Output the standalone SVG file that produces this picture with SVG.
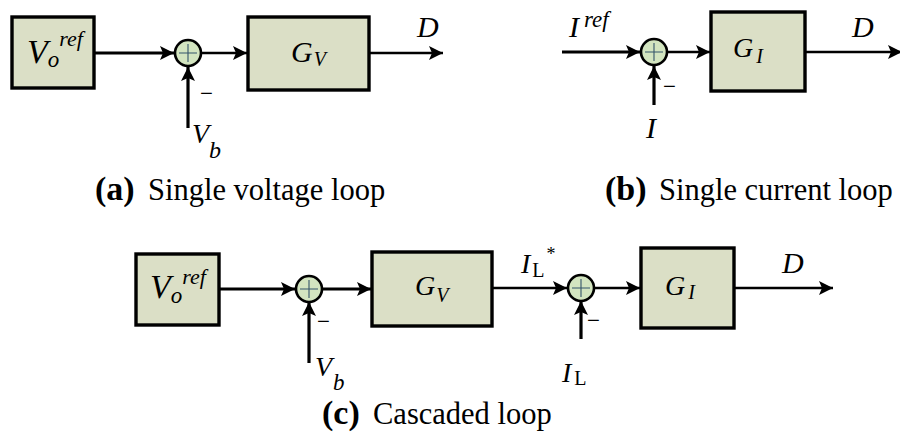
<svg xmlns="http://www.w3.org/2000/svg" width="900" height="432" viewBox="0 0 900 432" font-family="Liberation Serif">
<defs>
<marker id="ah" markerUnits="userSpaceOnUse" markerWidth="15" markerHeight="14" refX="14" refY="7" orient="auto">
<path d="M0,0 L14,7 L0,14 L3,7 Z" fill="#000"/>
</marker>
<style>
.blk{fill:#dbdfc6;stroke:#000;stroke-width:3.4}
.sum{fill:#d3e5c0;stroke:#000;stroke-width:2.6}
.plus{stroke:#35566a;stroke-width:1.1;fill:none}
.thick{stroke:#000;stroke-width:3.2;fill:none;marker-end:url(#ah)}
.thin{stroke:#000;stroke-width:2.3;fill:none;marker-end:url(#ah)}
.m{font-style:italic}
.r{font-style:normal}
.cap{font-size:30.5px;font-weight:normal}
.lab{font-size:34px;font-weight:bold}
.minus{font-size:23px}
</style>
</defs>
<rect width="900" height="432" fill="#fff"/>

<!-- (a) Single voltage loop -->
<g id="a_vref"><rect class="blk" x="12" y="17" width="82" height="71"/>
<text class="m" x="27" y="63" font-size="34">V<tspan font-size="23" dy="4">o</tspan><tspan font-size="22" dy="-21">ref</tspan></text></g>
<g id="a_sum"><circle class="sum" cx="188" cy="53" r="13"/><path class="plus" d="M179,53 H197 M188,44 V62"/></g>
<g id="a_gv"><rect class="blk" x="248" y="17" width="121" height="73"/>
<text class="m" x="291" y="62" font-size="30">G<tspan font-size="20" dx="1" dy="4">V</tspan></text></g>
<g id="a_labels">
<text class="m" x="417" y="37" font-size="30">D</text>
<text class="minus" x="200" y="101">−</text>
<text class="m" x="192" y="143" font-size="28">V<tspan font-size="24" dy="15">b</tspan></text>
<text x="95" y="200"><tspan class="lab">(a)</tspan><tspan class="cap" x="148">Single voltage loop</tspan></text>
</g>

<!-- (b) Single current loop -->
<g id="b_sum"><circle class="sum" cx="654" cy="52" r="13"/><path class="plus" d="M645,52 H663 M654,43 V61"/></g>
<g id="b_gi"><rect class="blk" x="711" y="12" width="94" height="79"/>
<text class="m" x="733" y="57" font-size="28">G<tspan font-size="20" dx="3" dy="6">I</tspan></text></g>
<g id="b_labels">
<text class="m" x="569" y="37" font-size="30">I<tspan font-size="23" dx="5" dy="-10">ref</tspan></text>
<text class="m" x="852" y="37" font-size="30">D</text>
<text class="minus" x="663" y="94">−</text>
<text class="m" x="646" y="138" font-size="30">I</text>
<text x="605" y="200"><tspan class="lab">(b)</tspan><tspan class="cap" x="659">Single current loop</tspan></text>
</g>

<!-- (c) Cascaded loop -->
<g id="c_vref"><rect class="blk" x="136" y="254" width="83" height="71"/>
<text class="m" x="150" y="298" font-size="34">V<tspan font-size="23" dy="5">o</tspan><tspan font-size="22" dy="-19">ref</tspan></text></g>
<g id="c_sum1"><circle class="sum" cx="309" cy="289" r="13"/><path class="plus" d="M300,289 H318 M309,280 V298"/></g>
<g id="c_gv"><rect class="blk" x="372" y="252" width="120" height="74"/>
<text class="m" x="415" y="295" font-size="28">G<tspan font-size="20" dx="1" dy="7">V</tspan></text></g>
<g id="c_sum2"><circle class="sum" cx="581" cy="288" r="13"/><path class="plus" d="M572,288 H590 M581,279 V297"/></g>
<g id="c_gi"><rect class="blk" x="641" y="248" width="93" height="80"/>
<text class="m" x="665" y="295" font-size="28">G<tspan font-size="20" dx="3" dy="4">I</tspan></text></g>
<g id="c_labels">
<text class="minus" x="317" y="329">−</text>
<text class="m" x="315" y="376" font-size="28">V<tspan font-size="23" dx="1" dy="14">b</tspan></text>
<text class="m" x="521" y="273" font-size="28">I<tspan class="r" font-size="20" dx="2" dy="4">L</tspan><tspan class="r" font-size="18" dx="2" dy="-17">*</tspan></text>
<text class="m" x="782" y="273" font-size="30">D</text>
<text class="minus" x="587" y="328">−</text>
<text class="m" x="562" y="382" font-size="28">I<tspan class="r" font-size="20" dx="3" dy="3">L</tspan></text>
<text x="322" y="424"><tspan class="lab" font-size="33">(c)</tspan><tspan class="cap" x="373">Cascaded loop</tspan></text>
</g>

<g id="connectors">
<path class="thick" d="M94,53 H174"/>
<path class="thin" d="M201,53 H247"/>
<path class="thin" d="M369,53 H443"/>
<path class="thick" d="M188,128 V67"/>
<path class="thick" d="M562,52 H640"/>
<path class="thin" d="M667,52 H710"/>
<path class="thin" d="M805,52 H902"/>
<path class="thick" d="M654,105 V66"/>
<path class="thick" d="M219,289 H295"/>
<path class="thick" d="M322,289 H371"/>
<path class="thin" d="M492,288 H567"/>
<path class="thin" d="M594,288 H640"/>
<path class="thin" d="M734,288 H833"/>
<path class="thick" d="M309,363 V302"/>
<path class="thick" d="M581,339 V301"/>
</g>
</svg>
